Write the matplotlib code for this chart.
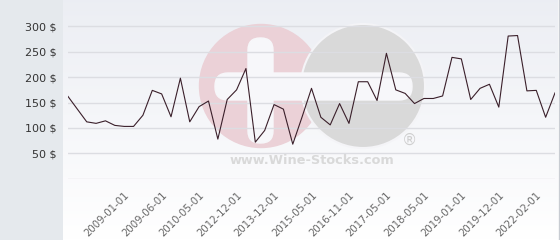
import numpy as np
import matplotlib.pyplot as plt
from matplotlib.patches import Circle, FancyBboxPatch, Rectangle

# price per bottle, one point per listing date
prices = [162, 137, 112, 109, 114, 105, 103, 103, 125, 174,
          167, 122, 198, 112, 142, 153, 78, 156, 175, 217,
          72, 95, 146, 137, 68, 122, 178, 121, 106, 148,
          109, 191, 191, 154, 247, 175, 168, 148, 158, 158,
          163, 239, 236, 156, 178, 186, 141, 281, 282, 173,
          174, 121, 169]
tick_idx = [6, 10, 14, 18, 22, 26, 30, 34, 38, 42, 46, 50]
tick_labels = ['2009-01-01', '2009-06-01', '2010-05-01', '2012-12-01',
               '2013-12-01', '2015-05-01', '2016-11-01', '2017-05-01',
               '2018-05-01', '2019-01-01', '2019-12-01', '2022-02-01']
y_ticks = [50, 100, 150, 200, 250, 300]

W, H = 560, 240
fig = plt.figure(figsize=(W / 100, H / 100), dpi=100)

# background: grey side panel + gradient plot area + watermark
bg = fig.add_axes([0, 0, 1, 1])
bg.set_xlim(0, W)
bg.set_ylim(H, 0)
bg.axis('off')
bg.add_patch(Rectangle((0, 0), 63, H, color='#e5e9ed', zorder=0))
grad = np.linspace(0, 1, 100).reshape(-1, 1)
top = np.array([0.925, 0.933, 0.955])
bot = np.array([1.0, 1.0, 1.0])
img = top + (bot - top) * grad[..., None]
bg.imshow(img, extent=(63, 558, H, 0), aspect='auto', zorder=0)
bg.plot([558.5, 558.5], [0, H], color='#c8ccd2', lw=1, zorder=1)

bg.add_patch(Circle((261, 86), 61.5, color='#ebd1d7', zorder=1))
bg.add_patch(Circle((363, 86), 62, color='#d9d9d9', ec='#f4f4f7', lw=1.5, zorder=1))
bg.add_patch(FancyBboxPatch((248, 38), 25, 105, boxstyle='round,pad=0,rounding_size=12',
                            color='#f7f7fa', zorder=2))
bg.add_patch(FancyBboxPatch((215, 73), 197, 27, boxstyle='round,pad=0,rounding_size=13',
                            color='#f7f7fa', zorder=2))
bg.text(410, 140, '®', color='#cfcfcf', fontsize=11, ha='center', va='center', zorder=2)
bg.text(312, 160, 'www.Wine-Stocks.com', color='#d9d9d9', fontsize=9.3,
        fontweight='bold', ha='center', va='center', zorder=2)

# main chart
ax = fig.add_axes([68 / W, (H - 178.7) / H, 487 / W, 178.7 / H])
ax.patch.set_alpha(0)
x = np.arange(len(prices))
ax.plot(x, prices, color='#3a1f2a', lw=0.8)
ax.set_xlim(0, len(prices) - 1)
ax.set_ylim(0, 352)

for v in [0] + y_ticks:
    ax.axhline(v, color='#dcdde2', lw=1, zorder=0)

ax.set_yticks(y_ticks)
ax.set_yticklabels([f'{v} $' for v in y_ticks], fontsize=8, color='#333333')
ax.set_xticks(tick_idx)
ax.set_xticklabels(tick_labels, rotation=45, ha='right', va='top',
                   rotation_mode='anchor', fontsize=7.3, color='#666666')
ax.tick_params(axis='both', length=0)
ax.tick_params(axis='x', pad=8)
ax.tick_params(axis='y', pad=8)
for s in ax.spines.values():
    s.set_visible(False)

fig.savefig('out.png', dpi=100)
